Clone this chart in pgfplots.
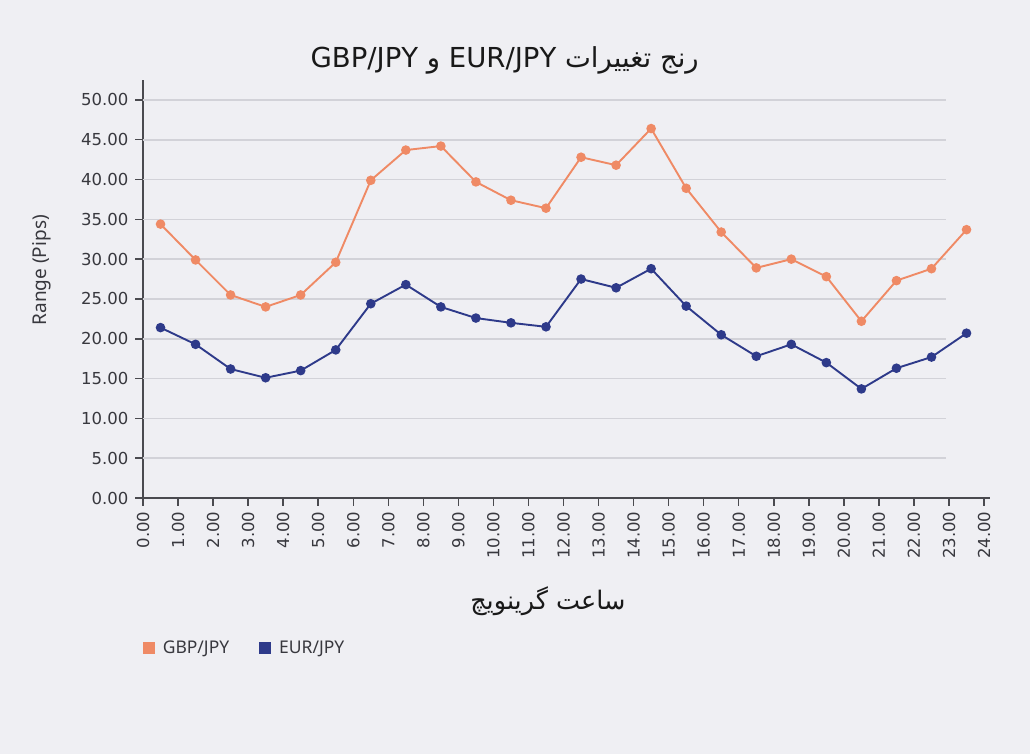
\documentclass[border=0pt]{standalone}
\usepackage{fontspec}
\usepackage{pgfplots}
\pgfplotsset{compat=1.18}
\setmainfont{Noto Sans}
\newfontfamily\dejavu{DejaVu Sans}
\newfontfamily\arabicfont[Script=Arabic]{DejaVu Sans}
\TeXXeTstate=1
\definecolor{bg}{HTML}{EFEFF3}
\definecolor{gridc}{HTML}{D2D2D8}
\definecolor{axisc}{HTML}{4A4A4F}
\definecolor{labc}{HTML}{38383E}
\definecolor{gbp}{HTML}{EF8A65}
\definecolor{eur}{HTML}{2E3A8A}
\pgfplotstableread{
x gbp eur
0.5 34.4 21.4
1.5 29.9 19.3
2.5 25.5 16.2
3.5 24.0 15.1
4.5 25.5 16.0
5.5 29.6 18.6
6.5 39.9 24.4
7.5 43.7 26.8
8.5 44.2 24.0
9.5 39.7 22.6
10.5 37.4 22.0
11.5 36.4 21.5
12.5 42.8 27.5
13.5 41.8 26.4
14.5 46.4 28.8
15.5 38.9 24.1
16.5 33.4 20.5
17.5 28.9 17.8
18.5 30.0 19.3
19.5 27.8 17.0
20.5 22.2 13.7
21.5 27.3 16.3
22.5 28.8 17.7
23.5 33.7 20.7
}\datatable
\begin{document}
\begin{tikzpicture}
\fill[bg] (0,0) rectangle (1030pt,754pt);
\begin{axis}[
  at={(143pt,256pt)}, anchor=south west,
  scale only axis, width=847pt, height=418pt,
  xmin=0, xmax=24.17, ymin=0, ymax=52.5,
  axis lines=left,
  axis line style={-, draw=axisc, line width=2pt},
  xtick={0,1,...,24}, ytick={0,5,...,50},
  tick align=outside, major tick length=8pt,
  tick style={draw=axisc, line width=1.5pt},
  /pgf/number format/assume math mode=true,
  /pgf/number format/.cd, fixed, fixed zerofill, precision=2, /pgfplots/.cd,
  tick label style={font=\dejavu\fontsize{16.5}{18}\selectfont, text=labc},
  xticklabel style={rotate=90, anchor=east, xshift=-2pt},
  yticklabel style={xshift=-3pt},
  title={\arabicfont\beginR رنج تغییرات \beginL EUR/JPY\endL{} و \beginL GBP/JPY\endL\endR},
  title style={at={(axis description cs:0.427,1.033)}, anchor=center, font=\fontsize{27.5}{30}\selectfont, text=black!90},
  xlabel={\arabicfont\beginR ساعت گرینویچ\endR},
  xlabel style={at={(axis description cs:0.478,-0.246)}, anchor=center, font=\fontsize{25.5}{28}\selectfont, text=black!90},
  ylabel={Range (Pips)},
  ylabel style={at={(axis description cs:-0.119,0.545)}, anchor=center, font=\fontsize{19}{22}\selectfont, text=labc},
  legend columns=2,
  legend style={at={(axis description cs:-0.004,-0.359)}, anchor=west, draw=none, fill=none,
    font=\fontsize{17.5}{20}\selectfont, text=labc,
    /tikz/every even column/.append style={column sep=28pt}},
  legend image code/.code={\path[#1, draw=none, fill] (0pt,-6pt) rectangle (12pt,6pt); \path (17pt,0pt);},
]
\pgfplotsinvokeforeach{5,10,...,50}{
  \draw[gridc, line width=1.6pt] (axis cs:0,#1) -- (axis cs:22.9,#1);
}
\addplot[gbp, line width=1.9pt, mark=*, mark size=3.8pt] table[x=x, y=gbp] {\datatable};
\addlegendentry{GBP/JPY}
\addplot[eur, line width=1.9pt, mark=*, mark size=3.8pt] table[x=x, y=eur] {\datatable};
\addlegendentry{EUR/JPY}
\end{axis}
\end{tikzpicture}
\end{document}
